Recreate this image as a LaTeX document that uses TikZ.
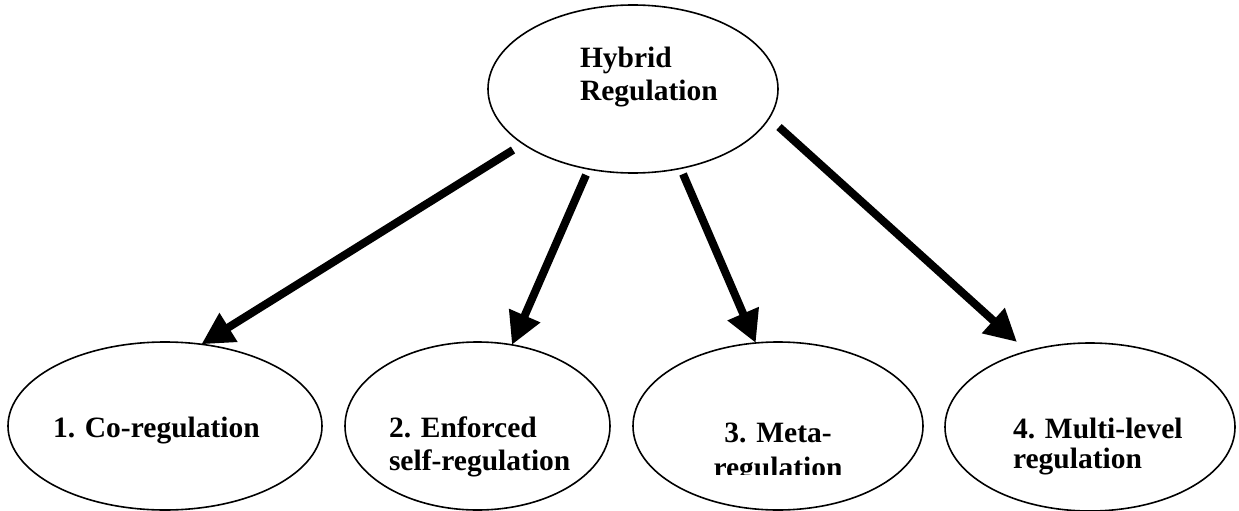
\documentclass[tikz,border=0pt]{standalone}
\usepackage{fontspec}
\setmainfont{Liberation Serif}
\usetikzlibrary{shapes.geometric,arrows.meta}
\begin{document}
\begin{tikzpicture}[x=1pt,y=-1pt,
  bubble/.style={draw=black, line width=1.6pt, ellipse, inner sep=0pt, outer sep=0pt},
  txt/.style={inner sep=0pt, outer sep=0pt, font=\fontsize{29.5}{33}\selectfont\bfseries},
  bigarrow/.style={line width=8pt, -{Triangle[length=32pt,width=32pt]}}]
\useasboundingbox (0,0) rectangle (1239,511);
% ellipses
\node[bubble, minimum width=290pt, minimum height=168pt] (top) at (633,89) {};
\node[bubble, minimum width=314pt, minimum height=168pt] (e1) at (165,426) {};
\node[bubble, minimum width=265pt, minimum height=168pt] (e2) at (477.5,426) {};
\node[bubble, minimum width=290pt, minimum height=168pt] (e3) at (778,426) {};
\node[bubble, minimum width=290pt, minimum height=168pt] (e4) at (1090,427) {};
% texts
\node[txt, anchor=base west] (ttop) at (580,67) {\begin{tabular}[t]{@{}l@{}}Hybrid\\Regulation\end{tabular}};
\node[txt, anchor=base west] (t1) at (53,437) {1. Co-regulation};
\node[txt, anchor=base west] (t2) at (389,437) {\begin{tabular}[t]{@{}l@{}}2. Enforced\\self-regulation\end{tabular}};
\begin{scope}
\clip (0,0) rectangle (1239,474);
\node[txt, anchor=base] (t3) at (778,442) {\begin{tabular}[t]{@{}c@{}}3. Meta-\\[2pt]regulation\end{tabular}};
\end{scope}
\node[txt, anchor=base west] (t4) at (1013,438) {\begin{tabular}[t]{@{}l@{}}4. Multi-level\\[-3pt]regulation\end{tabular}};
% arrow coordinates
\coordinate (s1) at (513,150);
\coordinate (s2) at (586,175);
\coordinate (s3) at (683,174);
\coordinate (s4) at (779,127);
\coordinate (end4) at (1017,342);
\draw[bigarrow] (s1) -- (e1.66);
\draw[bigarrow] (s2) -- (e2.67);
\draw[bigarrow] (s3) -- (e3.105);
\draw[bigarrow] (s4) -- (end4);
\end{tikzpicture}
\end{document}
